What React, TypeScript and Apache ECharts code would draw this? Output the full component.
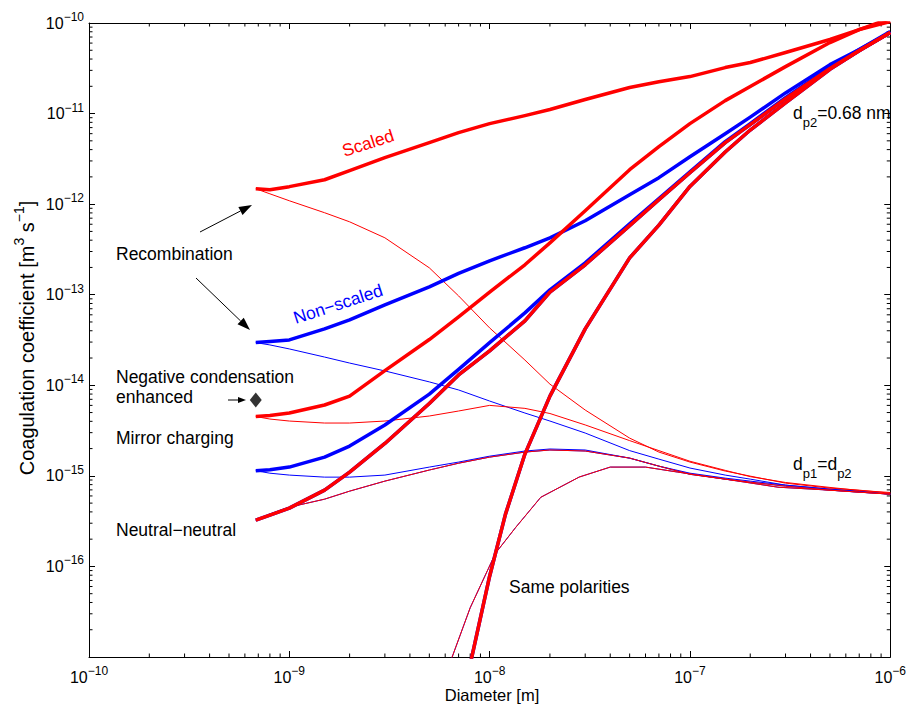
import React, { useEffect, useRef } from 'react';
import * as echarts from 'echarts';

// ---- Data ----
// Shared diameter grid [m]
const diameters = [6.8e-10, 8e-10, 1e-9, 1.5e-9, 2e-9, 3e-9, 5e-9, 7e-9, 1e-8, 1.5e-8, 2e-8, 3e-8, 5e-8, 7e-8, 1e-7, 1.5e-7, 2e-7, 3e-7, 5e-7, 7e-7, 1e-6];

// d_p2 = 0.68 nm (thick curves)
const recombScaled = [1.48e-12, 1.44e-12, 1.56e-12, 1.86e-12, 2.34e-12, 3.26e-12, 4.77e-12, 6.15e-12, 7.74e-12, 9.5e-12, 1.11e-11, 1.43e-11, 1.94e-11, 2.25e-11, 2.56e-11, 3.22e-11, 3.66e-11, 4.72e-11, 6.57e-11, 8.47e-11, 1.12e-10];
const recombNonScaled = [2.96e-14, 3.05e-14, 3.17e-14, 4.19e-14, 5.27e-14, 7.72e-14, 1.22e-13, 1.72e-13, 2.37e-13, 3.3e-13, 4.25e-13, 6.55e-13, 1.27e-12, 1.96e-12, 3.34e-12, 6.0e-12, 9.14e-12, 1.69e-11, 3.47e-11, 5.1e-11, 8.05e-11];
const mirrorScaled = [4.52e-15, 4.63e-15, 4.94e-15, 6.06e-15, 7.6e-15, 1.45e-14, 3.2e-14, 5.69e-14, 1.07e-13, 2.14e-13, 3.74e-13, 8.45e-13, 2.4e-12, 4.32e-12, 7.74e-12, 1.39e-11, 1.99e-11, 3.3e-11, 6.08e-11, 8.47e-11, 1.04e-10];
const mirrorNonScaled = [1.14e-15, 1.17e-15, 1.25e-15, 1.61e-15, 2.13e-15, 3.64e-15, 8.0e-15, 1.5e-14, 2.96e-14, 6.3e-14, 1.13e-13, 2.25e-13, 6.07e-13, 1.15e-12, 2.28e-12, 4.9e-12, 7.74e-12, 1.5e-11, 3.22e-11, 5.1e-11, 7.85e-11];
const neutralThick = [3.24e-16, 3.68e-16, 4.4e-16, 6.96e-16, 1.1e-15, 2.28e-15, 6.3e-15, 1.3e-14, 2.4e-14, 5.14e-14, 1.07e-13, 2.14e-13, 5.8e-13, 1.12e-12, 2.22e-12, 4.77e-12, 7.55e-12, 1.46e-11, 3.15e-11, 4.97e-11, 7.85e-11];

const samePolDiam = [7e-9, 8e-9, 1e-8, 1.2e-8, 1.5e-8, 2e-8, 3e-8, 5e-8, 7e-8, 1e-7, 1.5e-7, 2e-7, 3e-7, 5e-7, 7e-7, 1e-6];
const samePolThick = [2.0e-18, 8.3e-18, 7.8e-17, 3.78e-16, 1.74e-15, 7.6e-15, 4.19e-14, 2.55e-13, 5.87e-13, 1.57e-12, 3.77e-12, 6.58e-12, 1.31e-11, 3.08e-11, 4.93e-11, 7.85e-11];

// d_p1 = d_p2 (thin curves)
const recombScaledEq = [1.48e-12, 1.30e-12, 1.09e-12, 8.04e-13, 6.38e-13, 4.25e-13, 1.98e-13, 9.7e-14, 4.3e-14, 1.9e-14, 1.03e-14, 5.33e-15, 2.61e-15, 1.83e-15, 1.42e-15, 1.13e-15, 9.93e-16, 8.31e-16, 7.32e-16, 6.95e-16, 6.44e-16];
const recombNonScaledEq = [2.96e-14, 2.79e-14, 2.52e-14, 2.05e-14, 1.76e-14, 1.44e-14, 1.09e-14, 8.88e-15, 6.7e-15, 4.94e-15, 4.03e-15, 2.97e-15, 1.9e-15, 1.53e-15, 1.22e-15, 1.02e-15, 9.2e-16, 7.9e-16, 7.13e-16, 6.77e-16, 6.28e-16];
const mirrorScaledEq = [4.52e-15, 4.24e-15, 4.03e-15, 3.83e-15, 3.83e-15, 4.03e-15, 4.58e-15, 5.2e-15, 6.0e-15, 5.56e-15, 4.88e-15, 3.65e-15, 2.45e-15, 1.9e-15, 1.45e-15, 1.15e-15, 9.8e-16, 8.45e-16, 7.45e-16, 6.9e-16, 6.55e-16];
const mirrorNonScaledEq = [1.14e-15, 1.07e-15, 1.02e-15, 9.68e-16, 9.68e-16, 1.02e-15, 1.25e-15, 1.42e-15, 1.65e-15, 1.88e-15, 1.98e-15, 1.93e-15, 1.57e-15, 1.28e-15, 1.07e-15, 9.44e-16, 8.75e-16, 7.9e-16, 7.13e-16, 6.77e-16, 6.28e-16];
const neutralEq = [3.24e-16, 3.78e-16, 4.51e-16, 5.53e-16, 6.78e-16, 8.75e-16, 1.16e-15, 1.38e-15, 1.61e-15, 1.83e-15, 1.93e-15, 1.88e-15, 1.57e-15, 1.28e-15, 1.04e-15, 9.2e-16, 8.52e-16, 7.7e-16, 6.95e-16, 6.6e-16, 6.28e-16];

const samePolEqDiam = [6e-9, 6.5e-9, 8e-9, 1.07e-8, 1.35e-8, 1.8e-8, 2.8e-8, 4e-8, 6e-8, 8.7e-8, 1.5e-7, 2.75e-7, 5e-7, 1e-6];
const samePolEq = [6.5e-18, 1.0e-17, 3.5e-17, 1.4e-16, 2.7e-16, 5.8e-16, 9.7e-16, 1.25e-15, 1.25e-15, 1.1e-15, 9.2e-16, 7.5e-16, 6.95e-16, 6.28e-16];

// Marker: negative condensation enhanced
const negCondPoint = [6.8e-10, 6.87e-15];

// Axis ranges and minor tick multipliers
const xRange = [1e-10, 1e-6];
const yRange = [1e-17, 1e-10];
const xDecades = [1e-10, 1e-9, 1e-8, 1e-7];
const yDecades = [1e-17, 1e-16, 1e-15, 1e-14, 1e-13, 1e-12, 1e-11];
const minorSteps = [2, 3, 4, 5, 6, 7, 8, 9];

const FONT = '"Liberation Sans", Arial, Helvetica, sans-serif';
const RED = '#ff0000';
const BLUE = '#0000ff';

function expLabel(v: number) {
  const e = Math.round(Math.log10(v));
  return `{b|10}{s|${e < 0 ? '\u2212' : ''}${Math.abs(e)}}`;
}

const labelRich = {
  b: { fontSize: 16, fontFamily: FONT, color: '#000', lineHeight: 24, verticalAlign: 'middle' },
  s: { fontSize: 12, fontFamily: FONT, color: '#000', lineHeight: 10, verticalAlign: 'top' },
};

function arrow(x1: number, y1: number, x2: number, y2: number, len: number, half: number) {
  const dx = x2 - x1;
  const dy = y2 - y1;
  const l = Math.sqrt(dx * dx + dy * dy);
  const ux = dx / l;
  const uy = dy / l;
  const bx = x2 - ux * len;
  const by = y2 - uy * len;
  const nx = -uy;
  const ny = ux;
  return [
    { type: 'line', shape: { x1, y1, x2: bx, y2: by }, style: { stroke: '#000', lineWidth: 1 }, silent: true },
    {
      type: 'polygon',
      shape: { points: [[x2, y2], [bx + nx * half, by + ny * half], [bx - nx * half, by - ny * half]] },
      style: { fill: '#000' },
      silent: true,
    },
  ];
}

function text(x: number, y: number, t: string, opts: any = {}) {
  const align = opts.align || 'left';
  return {
    type: 'text',
    x,
    y,
    rotation: opts.rotation || 0,
    silent: true,
    z: 100,
    style: {
      text: t,
      fill: opts.fill || '#000',
      fontSize: opts.fontSize || 17.5,
      fontFamily: FONT,
      align,
      textAlign: align,
      verticalAlign: 'middle',
      textVerticalAlign: 'middle',
      rich: opts.rich,
    },
  };
}

export default function App() {
  const ref = useRef<HTMLDivElement>(null);

  useEffect(() => {
    if (!ref.current) return;
    const chart = echarts.init(ref.current, null, { renderer: 'svg' });

    const pairs = (xs: number[], ys: number[]) => xs.map((x, i) => [x, ys[i]]);
    const line = (name: string, xs: number[], ys: number[], color: string, width: number) => ({
      type: 'line',
      name,
      data: pairs(xs, ys),
      showSymbol: false,
      symbol: 'none',
      clip: true,
      silent: true,
      lineStyle: { color, width, join: 'round', cap: 'butt' },
      itemStyle: { color },
    });

    const xMinor: number[][] = [];
    xDecades.forEach((d) => minorSteps.forEach((k) => xMinor.push([k * d, 1e-16])));
    const yMinor: number[][] = [];
    yDecades.forEach((d) => minorSteps.forEach((k) => yMinor.push([1e-9, k * d])));

    const axisLineStyle = { show: true, lineStyle: { color: '#000', width: 1 } };
    const tickStyle = { show: true, inside: true, length: 6, lineStyle: { color: '#000', width: 1 } };

    const subSupRich = {
      m: { fontSize: 17.5, fontFamily: FONT, color: '#000', lineHeight: 32, verticalAlign: 'middle' },
      d: { fontSize: 13, fontFamily: FONT, color: '#000', lineHeight: 13, verticalAlign: 'bottom' },
    };
    const yTitleRich = {
      m: { fontSize: 20, fontFamily: FONT, color: '#000', lineHeight: 30, verticalAlign: 'middle' },
      u: { fontSize: 14, fontFamily: FONT, color: '#000', lineHeight: 14, verticalAlign: 'top' },
    };

    const option: any = {
      animation: false,
      backgroundColor: '#fff',
      grid: { left: 89, top: 23, width: 804, height: 634, containLabel: false },
      xAxis: [
        {
          type: 'log',
          logBase: 10,
          min: xRange[0],
          max: xRange[1],
          position: 'bottom',
          axisLine: axisLineStyle,
          axisTick: tickStyle,
          splitLine: { show: false },
          axisLabel: { show: true, formatter: expLabel, rich: labelRich, margin: 8, showMinLabel: true, showMaxLabel: true },
        },
        {
          type: 'log',
          logBase: 10,
          min: xRange[0],
          max: xRange[1],
          position: 'top',
          axisLine: axisLineStyle,
          axisTick: tickStyle,
          splitLine: { show: false },
          axisLabel: { show: false },
        },
      ],
      yAxis: [
        {
          type: 'log',
          logBase: 10,
          min: yRange[0],
          max: yRange[1],
          position: 'left',
          axisLine: axisLineStyle,
          axisTick: tickStyle,
          splitLine: { show: false },
          axisLabel: {
            show: true,
            formatter: (v: number) => (Math.round(Math.log10(v)) <= -17 ? '' : expLabel(v)),
            rich: labelRich,
            margin: 5,
            showMinLabel: true,
            showMaxLabel: true,
          },
        },
        {
          type: 'log',
          logBase: 10,
          min: yRange[0],
          max: yRange[1],
          position: 'right',
          axisLine: axisLineStyle,
          axisTick: tickStyle,
          splitLine: { show: false },
          axisLabel: { show: false },
        },
      ],
      series: [
        // minor ticks (drawn through the axes' scales)
        {
          type: 'custom',
          silent: true,
          data: xMinor,
          renderItem: (params: any, api: any) => {
            const cs = params.coordSys;
            const p = api.coord([api.value(0), api.value(1)]);
            const st = { stroke: '#000', lineWidth: 1 };
            return {
              type: 'group',
              children: [
                { type: 'line', shape: { x1: p[0], y1: cs.y + cs.height, x2: p[0], y2: cs.y + cs.height - 3.5 }, style: st },
                { type: 'line', shape: { x1: p[0], y1: cs.y, x2: p[0], y2: cs.y + 3.5 }, style: st },
              ],
            };
          },
        },
        {
          type: 'custom',
          silent: true,
          data: yMinor,
          renderItem: (params: any, api: any) => {
            const cs = params.coordSys;
            const p = api.coord([api.value(0), api.value(1)]);
            const st = { stroke: '#000', lineWidth: 1 };
            return {
              type: 'group',
              children: [
                { type: 'line', shape: { x1: cs.x, y1: p[1], x2: cs.x + 3.5, y2: p[1] }, style: st },
                { type: 'line', shape: { x1: cs.x + cs.width, y1: p[1], x2: cs.x + cs.width - 3.5, y2: p[1] }, style: st },
              ],
            };
          },
        },
        // thin curves (d_p1 = d_p2)
        line('Recombination non-scaled (equal)', diameters, recombNonScaledEq, BLUE, 1),
        line('Mirror charging non-scaled (equal)', diameters, mirrorNonScaledEq, BLUE, 1),
        line('Neutral-neutral non-scaled (equal)', diameters, neutralEq, BLUE, 1),
        line('Same polarities non-scaled (equal)', samePolEqDiam, samePolEq, BLUE, 1),
        line('Recombination scaled (equal)', diameters, recombScaledEq, RED, 1),
        line('Mirror charging scaled (equal)', diameters, mirrorScaledEq, RED, 1),
        line('Neutral-neutral scaled (equal)', diameters, neutralEq, RED, 1),
        line('Same polarities scaled (equal)', samePolEqDiam, samePolEq, RED, 1),
        // thick curves (d_p2 = 0.68 nm)
        line('Recombination non-scaled', diameters, recombNonScaled, BLUE, 3.5),
        line('Mirror charging non-scaled', diameters, mirrorNonScaled, BLUE, 3.5),
        line('Neutral-neutral non-scaled', diameters, neutralThick, BLUE, 3.5),
        line('Same polarities non-scaled', samePolDiam, samePolThick, BLUE, 3.5),
        line('Recombination scaled', diameters, recombScaled, RED, 3.5),
        line('Mirror charging scaled', diameters, mirrorScaled, RED, 3.5),
        line('Neutral-neutral scaled', diameters, neutralThick, RED, 3.5),
        line('Same polarities scaled', samePolDiam, samePolThick, RED, 3.5),
        {
          type: 'scatter',
          name: 'Negative condensation enhanced',
          data: [negCondPoint],
          symbol: 'diamond',
          symbolSize: [12, 15],
          itemStyle: { color: '#000' },
          silent: true,
          z: 5,
        },
      ],
      graphic: [
        text(27, 338, '{m|Coagulation coefficient [m}{u|3}{m| s}{u|\u22121}{m|]}', {
          rotation: Math.PI / 2,
          align: 'center',
          rich: yTitleRich,
        }),
        text(492, 695, 'Diameter [m]', { align: 'center', fontSize: 16.5 }),
        text(116, 254, 'Recombination'),
        text(116, 377, 'Negative condensation'),
        text(116, 397, 'enhanced'),
        text(116, 438, 'Mirror charging'),
        text(116, 530, 'Neutral\u2212neutral'),
        text(509, 586.5, 'Same polarities'),
        text(368, 143, 'Scaled', { fill: RED, align: 'center', rotation: (18 * Math.PI) / 180 }),
        text(338, 304, 'Non\u2212scaled', { fill: BLUE, align: 'center', rotation: (18 * Math.PI) / 180 }),
        text(793, 113, '{m|d}{d|p2}{m|=0.68 nm}', { rich: subSupRich }),
        text(793, 463.5, '{m|d}{d|p1}{m|=d}{d|p2}', { rich: subSupRich }),
        ...arrow(200, 232, 252, 205, 13, 4.5),
        ...arrow(196, 278, 250, 330, 13, 4.5),
        ...arrow(228, 400, 246, 400, 8, 3),
      ],
    };

    chart.setOption(option);
    return () => chart.dispose();
  }, []);

  return <div ref={ref} style={{ position: 'absolute', left: 0, top: 0, width: 909, height: 710 }} />;
}
